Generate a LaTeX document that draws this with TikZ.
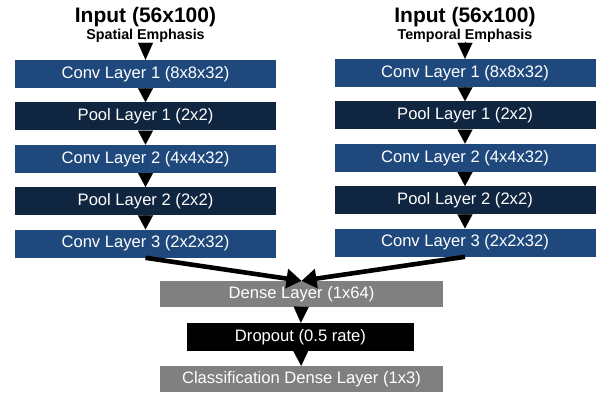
\documentclass[tikz,border=0pt]{standalone}
\usepackage{fontspec}
\setmainfont{Liberation Sans}
\usetikzlibrary{positioning,arrows.meta}
\definecolor{convblue}{HTML}{1F497D}
\definecolor{poolnavy}{HTML}{10253F}
\definecolor{densegray}{HTML}{808080}
\begin{document}
\begin{tikzpicture}[x=1pt, y=-1pt, line join=round, >=Triangle,
		layer/.style={minimum width=261pt, minimum height=28pt, inner sep=0pt, text=white, font=\fontsize{16.6}{19}\selectfont},
		conv/.style={layer, fill=convblue},
		pool/.style={layer, fill=poolnavy},
		dense/.style={layer, fill=densegray, minimum width=283pt, minimum height=26pt},
		drop/.style={layer, fill=black, minimum width=227pt},
		title/.style={font=\fontsize{21}{24}\selectfont\bfseries},
		subtitle/.style={font=\fontsize{14.3}{16}\selectfont\bfseries},
		tri/.style={line width=0.1pt, -{Triangle[width=15pt,length=14pt]}},
		merge/.style={line width=4.6pt, -{Triangle[width=19pt,length=15pt]}},
		node distance=14pt]
	\useasboundingbox (0,0) rectangle (596,396);
	% spatial branch
	\node[title] (titleL) at (145.5,17) {Input (56x100)};
	\node[subtitle] (subL) at (145.5,36) {Spatial Emphasis};
	\coordinate (topL) at (145.5,43);
	\node[conv] (convL1) at (145.5,74) {Conv Layer 1 (8x8x32)};
	\node[pool, below=of convL1] (poolL1) {Pool Layer 1 (2x2)};
	\node[conv, below=of poolL1] (convL2) {Conv Layer 2 (4x4x32)};
	\node[pool, below=of convL2] (poolL2) {Pool Layer 2 (2x2)};
	\node[conv, below=of poolL2] (convL3) {Conv Layer 3 (2x2x32)};
	% temporal branch
	\node[title] (titleR) at (465,17) {Input (56x100)};
	\node[subtitle] (subR) at (465,36) {Temporal Emphasis};
	\coordinate (topR) at (465,42);
	\node[conv] (convR1) at (465,73) {Conv Layer 1 (8x8x32)};
	\node[pool, below=of convR1] (poolR1) {Pool Layer 1 (2x2)};
	\node[conv, below=of poolR1] (convR2) {Conv Layer 2 (4x4x32)};
	\node[pool, below=of convR2] (poolR2) {Pool Layer 2 (2x2)};
	\node[conv, below=of poolR2] (convR3) {Conv Layer 3 (2x2x32)};
	% merged head
	\node[dense] (dense) at (301.5,294) {Dense Layer (1x64)};
	\node[drop] (drop) at (300.5,337) {Dropout (0.5 rate)};
	\node[dense] (classif) at (301.5,379) {Classification Dense Layer (1x3)};
	% arrows
	\draw[tri, -{Triangle[width=15pt,length=17pt]}] (topL) -- (convL1.north);
	\draw[tri, -{Triangle[width=15pt,length=16pt]}] (topR) -- (convR1.north);
	\foreach \s in {L,R}{
		\draw[tri] (conv\s1) -- (pool\s1);
		\draw[tri] (pool\s1) -- (conv\s2);
		\draw[tri] (conv\s2) -- (pool\s2);
		\draw[tri] (pool\s2) -- (conv\s3);
	}
	\draw[merge] (convL3.south) -- (dense.north);
	\draw[merge] (convR3.south) -- (dense.north);
	\draw[tri, -{Triangle[width=15pt,length=16pt]}] (dense) -- (drop);
	\draw[tri, -{Triangle[width=15pt,length=15pt]}] (drop) -- (classif);
\end{tikzpicture}
\end{document}
